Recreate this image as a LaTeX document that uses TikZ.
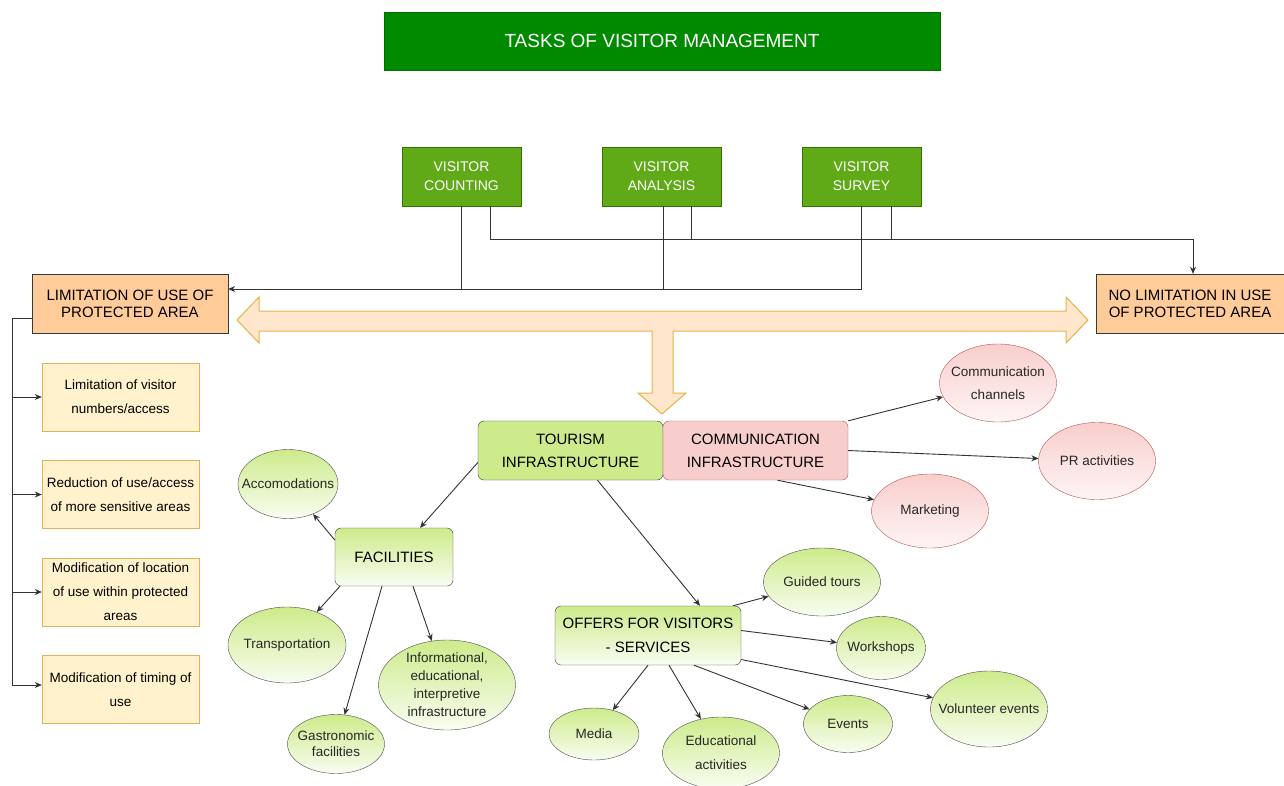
\documentclass[tikz,border=0pt]{standalone}
\usepackage{fontspec}
\setmainfont{Liberation Sans}
\usepackage{xcolor}
\usepackage{tikz}
\usetikzlibrary{shapes.geometric, arrows.meta, positioning, calc}

\definecolor{titlegreen}{HTML}{008A00}
\definecolor{taskgreen}{HTML}{60A917}
\definecolor{taskline}{HTML}{2D7600}
\definecolor{limorange}{HTML}{FFCC99}
\definecolor{stepyellow}{HTML}{FFF2CC}
\definecolor{stepline}{HTML}{D6B656}
\definecolor{arrowfill}{HTML}{FFE6CC}
\definecolor{arrowline}{HTML}{E3B448}
\definecolor{infragreen}{HTML}{CDEB8B}
\definecolor{rose}{HTML}{F8CECC}
\definecolor{roseline}{HTML}{B85450}
\definecolor{darkline}{HTML}{36393D}

\begin{document}
\begin{tikzpicture}[
    x=1pt, y=-1pt,
    >={Stealth[length=7pt,width=6pt]},
    task/.style={draw=taskline, fill=taskgreen, text=white, align=center, minimum width=119pt, minimum height=59pt, font=\fontsize{14}{19}\selectfont},
    limit/.style={draw=darkline, fill=limorange, align=center, minimum height=59pt, font=\fontsize{15}{17}\selectfont},
    stepbox/.style={draw=stepline, fill=stepyellow, align=center, minimum width=157pt, minimum height=68pt, font=\fontsize{13.5}{24}\selectfont},
    infra/.style={draw=darkline, rounded corners=6pt, align=center, minimum height=59pt, font=\fontsize{15}{23}\selectfont},
    leaf/.style={ellipse, draw=darkline!90, top color=infragreen, bottom color=infragreen!12, inner sep=0pt},
    talk/.style={leaf, draw=roseline, top color=rose, bottom color=rose!20},
    every label/.style={align=center, inner sep=0pt, text=black!85, font=\fontsize{13.5}{23}\selectfont},
    link/.style={->, draw=black!80, line width=0.9pt},
    rail/.style={draw=black!80, line width=0.9pt}
]
    \useasboundingbox (0,0) rectangle (1284,785);

    % Title and the three tasks
    \node[draw=titlegreen!80!black, fill=titlegreen, text=white, minimum width=556pt, minimum height=58pt, font=\fontsize{19}{23}\selectfont] at (662,41) (title) {TASKS OF VISITOR MANAGEMENT};
    \node[task] at (461.5,176.5) (count) {VISITOR\\COUNTING};
    \node[task] at (661.5,176.5) (analysis) {VISITOR\\ANALYSIS};
    \node[task] at (861.5,176.5) (survey) {VISITOR\\SURVEY};

    % Two ways of managing the protected area
    \node[limit, minimum width=196pt] at (130,303.5) (limited) {LIMITATION OF USE OF\\PROTECTED AREA};
    \node[limit, minimum width=188pt] at (1190,303.5) (open) {NO LIMITATION IN USE\\OF PROTECTED AREA};

    \coordinate (low) at (0,289);
    \coordinate (high) at (0,239);
    \draw[rail] (count.south) -- (count.south |- low);
    \draw[rail] ([xshift=1.5pt]analysis.south) -- ([xshift=1.5pt]analysis.south |- low);
    \draw[link] (survey.south) |- (limited.east |- low);
    \draw[rail] ([xshift=29.5pt]survey.south) -- ([xshift=29.5pt]survey.south |- high);
    \draw[rail] ([xshift=29.5pt]analysis.south) -- ([xshift=29.5pt]analysis.south |- high);
    \draw[link] ([xshift=28.5pt]count.south) |- ([xshift=3pt]open.north |- high) -- ([xshift=3pt]open.north);

    % Big double arrow with its stem
    \draw[draw=arrowline, fill=arrowfill, line width=1pt, line join=miter]
        (237,320) -- (259,297) -- (259,311) -- (1066,311) -- (1066,297) -- (1088,320)
        -- (1066,343) -- (1066,331) -- (673,331) -- (673,393) -- (686,393) -- (662,414)
        -- (638,393) -- (652,393) -- (652,331) -- (259,331) -- (259,343) -- cycle;

    % Limitation measures
    \node[stepbox] at (120.5,397) (step1) {Limitation of visitor\\numbers/access};
    \node[stepbox] at (120.5,494.5) (step2) {Reduction of use/access\\of more sensitive areas};
    \node[stepbox] at (120.5,592) (step3) {Modification of location\\of use within protected\\areas};
    \node[stepbox] at (120.5,689.5) (step4) {Modification of timing of\\use};
    \draw[link] ([yshift=-14.5pt]limited.west) -| ([xshift=-29pt,yshift=4.5pt]step4.west) -- ([yshift=4.5pt]step4.west);
    \foreach \s in {step1,step2,step3}
        \draw[link] ([xshift=-29pt]\s.west) -- (\s.west);

    % Infrastructure
    \node[infra, fill=infragreen, minimum width=185pt] at (570.5,450.5) (tourism) {TOURISM\\INFRASTRUCTURE};
    \node[infra, draw=roseline, fill=rose, minimum width=185pt] at (755.5,450.5) (comm) {COMMUNICATION\\INFRASTRUCTURE};
    \node[infra, top color=infragreen, bottom color=infragreen!12, minimum width=118pt, minimum height=58pt] at (394,557) (facil) {FACILITIES};
    \node[infra, top color=infragreen, bottom color=infragreen!12, minimum width=186pt, font=\fontsize{15}{24}\selectfont] at (648,635.5) (offers) {OFFERS FOR VISITORS\\- SERVICES};

    % Facilities
    \node[leaf, minimum width=100pt, minimum height=69pt, label=center:Accomodations] at (288,484) (accom) {};
    \node[leaf, minimum width=118pt, minimum height=76pt, label=center:Transportation] at (287,645) (transport) {};
    \node[leaf, minimum width=97pt, minimum height=59pt, label={[font=\fontsize{13.5}{16}\selectfont]center:Gastronomic\\facilities}] at (336,744) (gastro) {};
    \node[leaf, minimum width=137pt, minimum height=90pt, label={[font=\fontsize{13.5}{18}\selectfont]center:Informational,\\educational,\\interpretive\\infrastructure}] at (447,685) (inform) {};

    % Communication
    \node[talk, minimum width=117pt, minimum height=78pt, label=center:Communication\\channels] at (998,383) (channels) {};
    \node[talk, minimum width=117pt, minimum height=77pt, label=center:PR activities] at (1097,461) (pr) {};
    \node[talk, minimum width=117pt, minimum height=74pt, label=center:Marketing] at (930,511) (marketing) {};

    % Services
    \node[leaf, minimum width=117pt, minimum height=68pt, label=center:Guided tours] at (822,582) (guided) {};
    \node[leaf, minimum width=89pt, minimum height=63pt, label=center:Workshops] at (881,648) (workshops) {};
    \node[leaf, minimum width=117pt, minimum height=76pt, label=center:Volunteer events] at (989,709) (volunteer) {};
    \node[leaf, minimum width=89pt, minimum height=57pt, label=center:Events] at (848,724) (events) {};
    \node[leaf, minimum width=117pt, minimum height=72pt, label={[font=\fontsize{13.5}{24}\selectfont]center:Educational\\activities}] at (721,753) (edu) {};
    \node[leaf, minimum width=90pt, minimum height=52pt, label=center:Media] at (594,734) (media) {};

    \draw[link] ([yshift=-12pt]tourism.west) -- ([xshift=26pt]facil.north);
    \draw[link] ([xshift=27pt]tourism.south) -- ([xshift=52pt]offers.north);
    \draw[link] ([yshift=17pt]facil.west) -- (accom);
    \draw[link] ([xshift=-54pt]facil.south) -- (transport);
    \draw[link] ([xshift=-12pt]facil.south) -- (gastro);
    \draw[link] ([xshift=19pt]facil.south) -- (inform);
    \draw[link] (comm.north east) -- (channels);
    \draw[link] (comm.east) -- (pr);
    \draw[link] ([xshift=22pt]comm.south) -- (marketing);
    \draw[link] ([xshift=85pt]offers.north) -- (guided);
    \draw[link] ([yshift=5pt]offers.east) -- (workshops);
    \draw[link] ([yshift=-24pt]offers.east) -- (volunteer);
    \draw[link] ([xshift=46pt]offers.south) -- (events);
    \draw[link] ([xshift=21pt]offers.south) -- (edu);
    \draw[link] (offers.south) -- (media);
\end{tikzpicture}
\end{document}
